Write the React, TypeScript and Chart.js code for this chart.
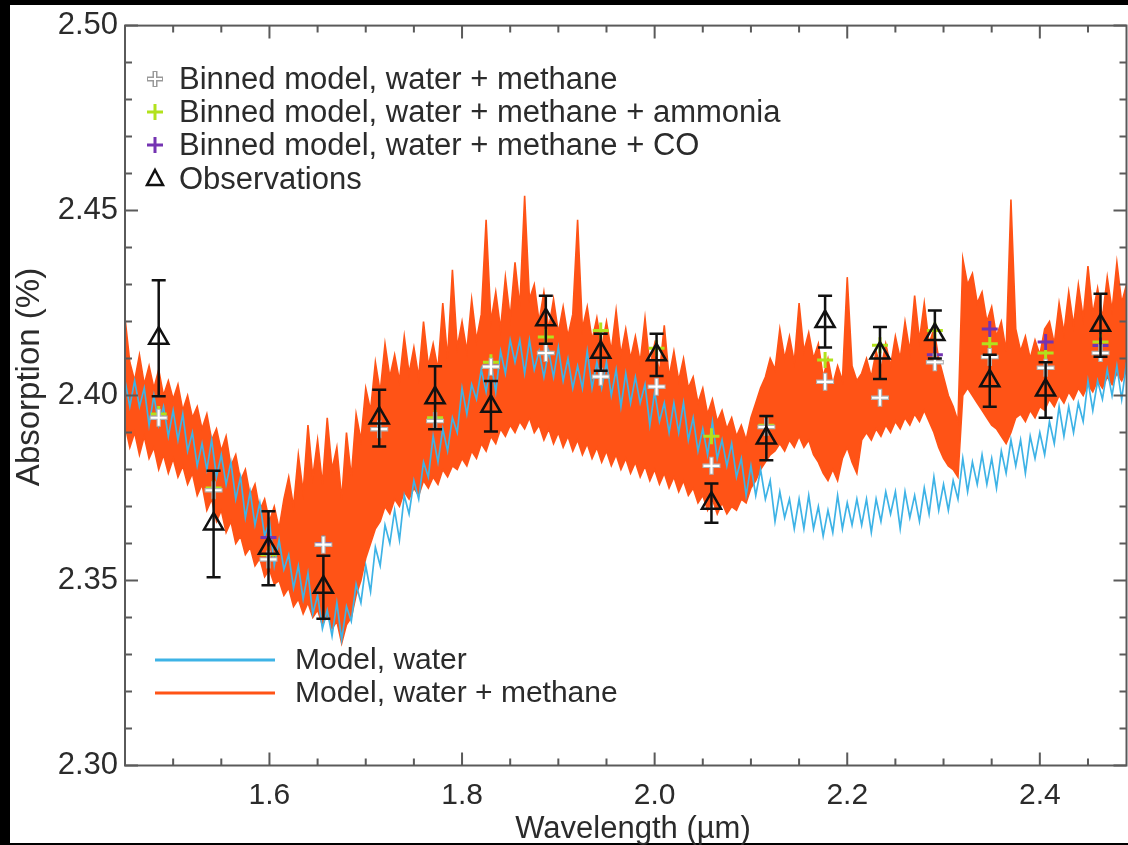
import React, { useEffect, useRef } from "react";
import { Chart, registerables } from "chart.js";

Chart.register(...registerables);

const FONT = "'Liberation Sans', Arial, Helvetica, sans-serif";
const TEXT_COLOR = "#2b2b2b";
const BLUE = "#3eb3e6";
const ORANGE = "#ff5316";
const GREEN = "#b2e21c";
const PURPLE = "#7433b2";

// Wavelength grid of the high-resolution models (µm)
const WAVELENGTH = [
  1.450, 1.455, 1.460, 1.465, 1.470, 1.475, 1.480, 1.485, 1.490, 1.495,
  1.500, 1.505, 1.510, 1.515, 1.520, 1.525, 1.530, 1.535, 1.540, 1.545,
  1.550, 1.555, 1.560, 1.565, 1.570, 1.575, 1.580, 1.585, 1.590, 1.595,
  1.600, 1.605, 1.610, 1.615, 1.620, 1.625, 1.630, 1.635, 1.640, 1.645,
  1.650, 1.655, 1.660, 1.665, 1.670, 1.675, 1.680, 1.685, 1.690, 1.695,
  1.700, 1.705, 1.710, 1.715, 1.720, 1.725, 1.730, 1.735, 1.740, 1.745,
  1.750, 1.755, 1.760, 1.765, 1.770, 1.775, 1.780, 1.785, 1.790, 1.795,
  1.800, 1.805, 1.810, 1.815, 1.820, 1.825, 1.830, 1.835, 1.840, 1.845,
  1.850, 1.855, 1.860, 1.865, 1.870, 1.875, 1.880, 1.885, 1.890, 1.895,
  1.900, 1.905, 1.910, 1.915, 1.920, 1.925, 1.930, 1.935, 1.940, 1.945,
  1.950, 1.955, 1.960, 1.965, 1.970, 1.975, 1.980, 1.985, 1.990, 1.995,
  2.000, 2.005, 2.010, 2.015, 2.020, 2.025, 2.030, 2.035, 2.040, 2.045,
  2.050, 2.055, 2.060, 2.065, 2.070, 2.075, 2.080, 2.085, 2.090, 2.095,
  2.100, 2.105, 2.110, 2.115, 2.120, 2.125, 2.130, 2.135, 2.140, 2.145,
  2.150, 2.155, 2.160, 2.165, 2.170, 2.175, 2.180, 2.185, 2.190, 2.195,
  2.200, 2.205, 2.210, 2.215, 2.220, 2.225, 2.230, 2.235, 2.240, 2.245,
  2.250, 2.255, 2.260, 2.265, 2.270, 2.275, 2.280, 2.285, 2.290, 2.295,
  2.300, 2.305, 2.310, 2.315, 2.320, 2.325, 2.330, 2.335, 2.340, 2.345,
  2.350, 2.355, 2.360, 2.365, 2.370, 2.375, 2.380, 2.385, 2.390, 2.395,
  2.400, 2.405, 2.410, 2.415, 2.420, 2.425, 2.430, 2.435, 2.440, 2.445,
  2.450, 2.455, 2.460, 2.465, 2.470, 2.475, 2.480, 2.485, 2.490,
];

// Model, water (%)
const MODEL_WATER = [
  2.404, 2.397, 2.404, 2.397, 2.402, 2.392, 2.400, 2.392, 2.397, 2.389,
  2.396, 2.388, 2.395, 2.385, 2.390, 2.381, 2.387, 2.380, 2.388, 2.378,
  2.384, 2.376, 2.382, 2.372, 2.378, 2.367, 2.374, 2.365, 2.371, 2.362,
  2.366, 2.354, 2.361, 2.353, 2.357, 2.348, 2.354, 2.345, 2.352, 2.341,
  2.346, 2.337, 2.342, 2.335, 2.344, 2.334, 2.343, 2.339, 2.349, 2.344,
  2.354, 2.347, 2.359, 2.354, 2.365, 2.360, 2.369, 2.361, 2.373, 2.368,
  2.377, 2.372, 2.382, 2.378, 2.389, 2.382, 2.391, 2.385, 2.394, 2.390,
  2.402, 2.395, 2.403, 2.399, 2.407, 2.401, 2.409, 2.401, 2.412, 2.406,
  2.415, 2.409, 2.415, 2.406, 2.415, 2.407, 2.412, 2.405, 2.412, 2.405,
  2.413, 2.404, 2.410, 2.402, 2.408, 2.402, 2.412, 2.402, 2.409, 2.402,
  2.409, 2.400, 2.407, 2.397, 2.406, 2.398, 2.405, 2.398, 2.403, 2.392,
  2.401, 2.393, 2.398, 2.390, 2.398, 2.390, 2.398, 2.388, 2.394, 2.385,
  2.391, 2.384, 2.393, 2.383, 2.388, 2.381, 2.387, 2.378, 2.383, 2.373,
  2.381, 2.373, 2.380, 2.372, 2.377, 2.366, 2.374, 2.367, 2.372, 2.364,
  2.372, 2.364, 2.373, 2.364, 2.370, 2.362, 2.369, 2.363, 2.373, 2.364,
  2.371, 2.365, 2.372, 2.365, 2.372, 2.363, 2.372, 2.366, 2.374, 2.368,
  2.374, 2.364, 2.374, 2.367, 2.373, 2.366, 2.375, 2.368, 2.378, 2.369,
  2.376, 2.369, 2.377, 2.372, 2.383, 2.374, 2.382, 2.376, 2.384, 2.376,
  2.383, 2.375, 2.385, 2.379, 2.388, 2.381, 2.388, 2.379, 2.389, 2.383,
  2.390, 2.384, 2.393, 2.387, 2.397, 2.389, 2.397, 2.390, 2.398, 2.393,
  2.404, 2.396, 2.404, 2.399, 2.407, 2.400, 2.408, 2.399, 2.409,
];

// Model, water + methane: upper and lower excursions at each wavelength (%)
const MODEL_METHANE_HIGH = [
  2.421, 2.409, 2.404, 2.411, 2.403, 2.408, 2.402, 2.407, 2.400, 2.404,
  2.399, 2.403, 2.396, 2.400, 2.394, 2.397, 2.391, 2.395, 2.388, 2.391,
  2.385, 2.389, 2.381, 2.384, 2.377, 2.380, 2.373, 2.376, 2.369, 2.372,
  2.366, 2.370, 2.364, 2.372, 2.378, 2.370, 2.384, 2.374, 2.392, 2.378,
  2.388, 2.376, 2.394, 2.380, 2.386, 2.372, 2.390, 2.378, 2.395, 2.388,
  2.402, 2.396, 2.409, 2.401, 2.414, 2.405, 2.411, 2.404, 2.416, 2.406,
  2.413, 2.405, 2.420, 2.408, 2.414, 2.407, 2.425, 2.410, 2.434, 2.413,
  2.420, 2.412, 2.426, 2.415, 2.422, 2.4475, 2.420, 2.428, 2.418, 2.432,
  2.421, 2.436, 2.424, 2.454, 2.426, 2.430, 2.420, 2.428, 2.418, 2.426,
  2.417, 2.424, 2.416, 2.422, 2.4475, 2.418, 2.424, 2.415, 2.421, 2.413,
  2.420, 2.412, 2.423, 2.411, 2.418, 2.410, 2.416, 2.409, 2.421, 2.408,
  2.414, 2.406, 2.419, 2.405, 2.412, 2.404, 2.410, 2.402, 2.405, 2.398,
  2.402, 2.395, 2.399, 2.393, 2.396, 2.391, 2.394, 2.389, 2.392, 2.388,
  2.394, 2.398, 2.402, 2.405, 2.410, 2.407, 2.418, 2.410, 2.416, 2.409,
  2.425, 2.412, 2.417, 2.410, 2.414, 2.405, 2.410, 2.403, 2.408, 2.404,
  2.432, 2.408, 2.404, 2.406, 2.410, 2.405, 2.412, 2.407, 2.414, 2.408,
  2.416, 2.410, 2.420, 2.412, 2.427, 2.415, 2.425, 2.414, 2.418, 2.410,
  2.405, 2.400, 2.397, 2.393, 2.437, 2.430, 2.433, 2.425, 2.428, 2.420,
  2.424, 2.416, 2.420, 2.412, 2.453, 2.418, 2.412, 2.416, 2.410, 2.415,
  2.411, 2.418, 2.420, 2.414, 2.425, 2.417, 2.428, 2.419, 2.430, 2.421,
  2.435, 2.422, 2.429, 2.421, 2.432, 2.423, 2.436, 2.425, 2.430,
];

const MODEL_METHANE_LOW = [
  2.392, 2.386, 2.390, 2.384, 2.389, 2.383, 2.386, 2.380, 2.384, 2.379,
  2.383, 2.378, 2.381, 2.376, 2.379, 2.373, 2.376, 2.369, 2.372, 2.366,
  2.369, 2.363, 2.366, 2.360, 2.362, 2.357, 2.359, 2.354, 2.356, 2.351,
  2.353, 2.349, 2.350, 2.346, 2.348, 2.343, 2.345, 2.341, 2.344, 2.340,
  2.342, 2.338, 2.341, 2.337, 2.339, 2.333, 2.338, 2.340, 2.346, 2.350,
  2.356, 2.360, 2.364, 2.366, 2.370, 2.368, 2.372, 2.370, 2.374, 2.372,
  2.375, 2.373, 2.377, 2.375, 2.378, 2.376, 2.380, 2.378, 2.381, 2.380,
  2.383, 2.381, 2.385, 2.383, 2.387, 2.385, 2.389, 2.387, 2.391, 2.389,
  2.392, 2.390, 2.393, 2.391, 2.394, 2.390, 2.392, 2.388, 2.391, 2.387,
  2.390, 2.386, 2.389, 2.385, 2.388, 2.384, 2.387, 2.383, 2.386, 2.382,
  2.385, 2.381, 2.384, 2.380, 2.383, 2.379, 2.382, 2.378, 2.381, 2.377,
  2.380, 2.376, 2.379, 2.375, 2.378, 2.374, 2.377, 2.373, 2.375, 2.371,
  2.373, 2.369, 2.372, 2.368, 2.371, 2.368, 2.370, 2.369, 2.372, 2.371,
  2.375, 2.377, 2.380, 2.382, 2.384, 2.385, 2.387, 2.385, 2.388, 2.386,
  2.389, 2.386, 2.388, 2.384, 2.382, 2.379, 2.377, 2.380, 2.377, 2.383,
  2.386, 2.382, 2.379, 2.388, 2.390, 2.388, 2.391, 2.389, 2.392, 2.390,
  2.393, 2.391, 2.394, 2.392, 2.395, 2.393, 2.396, 2.393, 2.390, 2.386,
  2.383, 2.381, 2.380, 2.378, 2.400, 2.402, 2.400, 2.398, 2.396, 2.394,
  2.392, 2.391, 2.389, 2.387, 2.390, 2.394, 2.395, 2.393, 2.396, 2.394,
  2.397, 2.396, 2.399, 2.397, 2.400, 2.398, 2.401, 2.399, 2.402, 2.400,
  2.403, 2.401, 2.404, 2.402, 2.405, 2.403, 2.406, 2.404, 2.407,
];

// Observations
const OBS_WAVELENGTH = [
  1.485, 1.542, 1.599, 1.656, 1.714, 1.772, 1.830, 1.887, 1.944,
  2.002, 2.059, 2.116, 2.177, 2.234, 2.291, 2.348, 2.406, 2.463,
];
const OBS_VALUE = [
  2.4155, 2.3653, 2.3587, 2.3482, 2.3939, 2.3994, 2.3971, 2.4205, 2.4117,
  2.4110, 2.3709, 2.3885, 2.4200, 2.4115, 2.4165, 2.4040, 2.4015, 2.4190,
];
const OBS_ERROR = [
  0.0157, 0.0144, 0.0100, 0.0085, 0.0077, 0.0085, 0.0068, 0.0065, 0.0050,
  0.0057, 0.0053, 0.0060, 0.0070, 0.0070, 0.0065, 0.0070, 0.0075, 0.0085,
];

// Binned models
const BIN_WATER_METHANE = [
  2.3940, 2.3744, 2.3557, 2.3597, 2.3909, 2.3931, 2.4078, 2.4115, 2.4051,
  2.4024, 2.3810, 2.3915, 2.4037, 2.3994, 2.4090, 2.4104, 2.4075, 2.4115,
];
const BIN_AMMONIA = [
  2.3950, 2.3750, 2.3570, 2.3600, 2.3910, 2.3940, 2.4090, 2.4158, 2.4176,
  2.4128, 2.3890, 2.3920, 2.4096, 2.4136, 2.4176, 2.4140, 2.4115, 2.4145,
];
const BIN_CO = [
  2.3940, 2.3744, 2.3616, 2.3600, 2.3910, 2.3930, 2.4080, 2.4115, 2.4051,
  2.4024, 2.3810, 2.3915, 2.4037, 2.3994, 2.4110, 2.4180, 2.4145, 2.4135,
];

// Axes
const X_MIN = 1.45;
const X_MAX = 2.49;
const Y_MIN = 2.3;
const Y_MAX = 2.5;
const X_TICKS = [1.6, 1.8, 2.0, 2.2, 2.4];
const X_MINOR_TICKS = [1.45, 1.5, 1.55, 1.65, 1.7, 1.75, 1.85, 1.9, 1.95, 2.05, 2.1, 2.15, 2.25, 2.3, 2.35, 2.45];
const Y_TICKS = [2.3, 2.35, 2.4, 2.45, 2.5];
const Y_MINOR_TICKS = [2.31, 2.32, 2.33, 2.34, 2.36, 2.37, 2.38, 2.39, 2.41, 2.42, 2.43, 2.44, 2.46, 2.47, 2.48, 2.49];

const X_TITLE = "Wavelength (µm)";
const Y_TITLE = "Absorption (%)";
const TOP_LEGEND = [
  "Binned model, water + methane",
  "Binned model, water + methane + ammonia",
  "Binned model, water + methane + CO",
  "Observations",
];
const BOTTOM_LEGEND = ["Model, water", "Model, water + methane"];

function toPoints(xs: number[], ys: number[]) {
  return xs.map((x, i) => ({ x, y: ys[i] }));
}

function drawCross(ctx: CanvasRenderingContext2D, x: number, y: number, r: number, color: string, width: number) {
  ctx.strokeStyle = color;
  ctx.lineWidth = width;
  ctx.beginPath();
  ctx.moveTo(x - r, y);
  ctx.lineTo(x + r, y);
  ctx.moveTo(x, y - r);
  ctx.lineTo(x, y + r);
  ctx.stroke();
}

const figurePlugin = {
  id: "figure",
  beforeDraw(chart: any) {
    const ctx = chart.ctx as CanvasRenderingContext2D;
    ctx.save();
    ctx.fillStyle = "#000";
    ctx.fillRect(0, 0, chart.width, chart.height);
    ctx.fillStyle = "#fff";
    ctx.fillRect(10, 5, chart.width - 10, 838);
    ctx.restore();
  },
  afterDatasetsDraw(chart: any) {
    const ctx = chart.ctx as CanvasRenderingContext2D;
    const xs = chart.scales.x;
    const ys = chart.scales.y;
    ctx.save();
    ctx.strokeStyle = "#111";
    ctx.lineWidth = 2.5;
    OBS_WAVELENGTH.forEach((w, i) => {
      const px = xs.getPixelForValue(w);
      const yTop = ys.getPixelForValue(OBS_VALUE[i] + OBS_ERROR[i]);
      const yBot = ys.getPixelForValue(OBS_VALUE[i] - OBS_ERROR[i]);
      ctx.beginPath();
      ctx.moveTo(px, yTop);
      ctx.lineTo(px, yBot);
      ctx.moveTo(px - 7, yTop);
      ctx.lineTo(px + 7, yTop);
      ctx.moveTo(px - 7, yBot);
      ctx.lineTo(px + 7, yBot);
      ctx.stroke();
    });
    ctx.restore();
  },
  afterDraw(chart: any) {
    const ctx = chart.ctx as CanvasRenderingContext2D;
    const { left, right, top, bottom } = chart.chartArea;
    const xs = chart.scales.x;
    const ys = chart.scales.y;
    ctx.save();
    // frame
    ctx.strokeStyle = "#5a5a5a";
    ctx.lineWidth = 2;
    ctx.strokeRect(left, top, right - left, bottom - top);
    // inward ticks
    const xTick = (v: number, len: number) => {
      const p = xs.getPixelForValue(v);
      ctx.beginPath();
      ctx.moveTo(p, bottom);
      ctx.lineTo(p, bottom - len);
      ctx.moveTo(p, top);
      ctx.lineTo(p, top + len);
      ctx.stroke();
    };
    const yTick = (v: number, len: number) => {
      const p = ys.getPixelForValue(v);
      ctx.beginPath();
      ctx.moveTo(left, p);
      ctx.lineTo(left + len, p);
      ctx.moveTo(right, p);
      ctx.lineTo(right - len, p);
      ctx.stroke();
    };
    X_TICKS.forEach((v) => xTick(v, 13));
    X_MINOR_TICKS.forEach((v) => xTick(v, 7));
    Y_TICKS.forEach((v) => yTick(v, 13));
    Y_MINOR_TICKS.forEach((v) => yTick(v, 7));

    // axis titles
    ctx.fillStyle = TEXT_COLOR;
    ctx.font = `31px ${FONT}`;
    ctx.textAlign = "center";
    ctx.textBaseline = "alphabetic";
    ctx.fillText(X_TITLE, 633, 838);
    ctx.font = `33px ${FONT}`;
    ctx.save();
    ctx.translate(39, 377);
    ctx.rotate(-Math.PI / 2);
    ctx.fillText(Y_TITLE, 0, 0);
    ctx.restore();

    // top legend
    const rowY = [79, 112, 145, 179];
    const symX = 155;
    const textX = 179;
    ctx.textAlign = "left";
    ctx.textBaseline = "middle";
    ctx.font = `31px ${FONT}`;
    drawCross(ctx, symX, rowY[0], 8, "#9a9a9a", 5);
    drawCross(ctx, symX, rowY[0], 7, "#ffffff", 2);
    drawCross(ctx, symX, rowY[1], 8, GREEN, 3);
    drawCross(ctx, symX, rowY[2], 8, PURPLE, 3);
    ctx.strokeStyle = "#111";
    ctx.lineWidth = 2.5;
    ctx.beginPath();
    ctx.moveTo(symX, rowY[3] - 9);
    ctx.lineTo(symX + 8, rowY[3] + 6);
    ctx.lineTo(symX - 8, rowY[3] + 6);
    ctx.closePath();
    ctx.stroke();
    ctx.fillStyle = TEXT_COLOR;
    TOP_LEGEND.forEach((t, i) => ctx.fillText(t, textX, rowY[i] + 1));

    // bottom legend
    const lineY = [660, 693];
    const colors = [BLUE, ORANGE];
    ctx.font = `30px ${FONT}`;
    BOTTOM_LEGEND.forEach((t, i) => {
      ctx.strokeStyle = colors[i];
      ctx.lineWidth = 3;
      ctx.beginPath();
      ctx.moveTo(155, lineY[i]);
      ctx.lineTo(275, lineY[i]);
      ctx.stroke();
      ctx.fillStyle = TEXT_COLOR;
      ctx.fillText(t, 295, lineY[i] + 1);
    });
    ctx.restore();
  },
};

export default function App() {
  const ref = useRef<HTMLCanvasElement | null>(null);

  useEffect(() => {
    if (!ref.current) return;

    const chart = new Chart(ref.current, {
      type: "line",
      data: {
        datasets: [
          {
            label: "Observations",
            type: "scatter",
            data: toPoints(OBS_WAVELENGTH, OBS_VALUE),
            pointStyle: "triangle",
            pointRadius: 11,
            borderColor: "#111",
            backgroundColor: "rgba(0,0,0,0)",
            borderWidth: 2.5,
            order: 0,
          },
          {
            label: "Binned model, water + methane",
            type: "scatter",
            data: toPoints(OBS_WAVELENGTH, BIN_WATER_METHANE),
            pointStyle: "cross",
            pointRadius: 8,
            borderColor: "#ffffff",
            borderWidth: 2.2,
            order: 1,
          },
          {
            label: "Binned model outline",
            type: "scatter",
            data: toPoints(OBS_WAVELENGTH, BIN_WATER_METHANE),
            pointStyle: "cross",
            pointRadius: 9,
            borderColor: "#b0b0b0",
            borderWidth: 4.5,
            order: 2,
          },
          {
            label: "Binned model, water + methane + CO",
            type: "scatter",
            data: toPoints(OBS_WAVELENGTH, BIN_CO),
            pointStyle: "cross",
            pointRadius: 8,
            borderColor: PURPLE,
            borderWidth: 3,
            order: 3,
          },
          {
            label: "Binned model, water + methane + ammonia",
            type: "scatter",
            data: toPoints(OBS_WAVELENGTH, BIN_AMMONIA),
            pointStyle: "cross",
            pointRadius: 8,
            borderColor: GREEN,
            borderWidth: 3,
            order: 4,
          },
          {
            label: "Model, water",
            data: toPoints(WAVELENGTH, MODEL_WATER),
            borderColor: BLUE,
            borderWidth: 1.7,
            pointRadius: 0,
            tension: 0,
            fill: false,
            order: 5,
          },
          {
            label: "Model, water + methane (upper)",
            data: toPoints(WAVELENGTH, MODEL_METHANE_HIGH),
            borderColor: ORANGE,
            borderWidth: 1.6,
            pointRadius: 0,
            tension: 0,
            fill: false,
            order: 6,
          },
          {
            label: "Model, water + methane (lower)",
            data: toPoints(WAVELENGTH, MODEL_METHANE_LOW),
            borderColor: ORANGE,
            backgroundColor: ORANGE,
            borderWidth: 1.6,
            pointRadius: 0,
            tension: 0,
            fill: 6,
            order: 7,
          },
        ],
      },
      options: {
        animation: false,
        responsive: false,
        devicePixelRatio: 1,
        events: [],
        layout: { padding: { left: 0, right: 11, top: 16.5, bottom: 0 } },
        plugins: {
          legend: { display: false },
          tooltip: { enabled: false },
          filler: { propagate: false },
        },
        scales: {
          x: {
            type: "linear",
            min: X_MIN,
            max: X_MAX,
            grid: { display: false, drawTicks: false },
            border: { display: false },
            afterBuildTicks: (s: any) => {
              s.ticks = X_TICKS.map((value) => ({ value }));
            },
            afterFit: (s: any) => {
              s.height = 79.5;
            },
            ticks: {
              padding: 12,
              autoSkip: false,
              maxRotation: 0,
              color: TEXT_COLOR,
              font: { size: 30, family: FONT },
              callback: (v: any) => Number(v).toFixed(1),
            },
          },
          y: {
            type: "linear",
            min: Y_MIN,
            max: Y_MAX,
            grid: { display: false, drawTicks: false },
            border: { display: false },
            afterBuildTicks: (s: any) => {
              s.ticks = Y_TICKS.map((value) => ({ value }));
            },
            afterFit: (s: any) => {
              s.width = 125;
            },
            ticks: {
              padding: 7,
              color: TEXT_COLOR,
              font: { size: 31, family: FONT },
              callback: (v: any) => Number(v).toFixed(2),
            },
          },
        },
      } as any,
      plugins: [figurePlugin],
    } as any);

    return () => chart.destroy();
  }, []);

  return (
    <div
      style={{
        position: "fixed",
        left: 0,
        top: 0,
        width: 1128,
        height: 845,
        overflow: "hidden",
        background: "#000",
      }}
    >
      <canvas ref={ref} width={1140} height={845} style={{ display: "block", width: 1140, height: 845 }} />
    </div>
  );
}
